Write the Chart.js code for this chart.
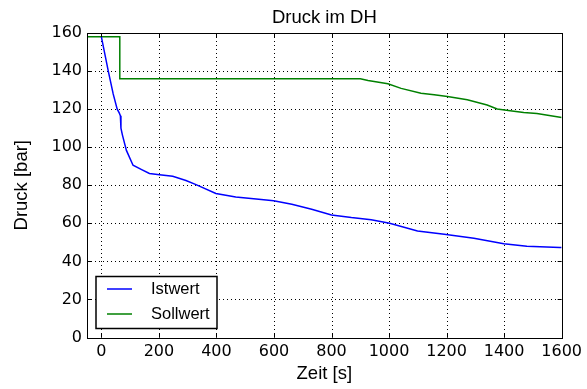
<!DOCTYPE html>
<html>
<head>
<meta charset="utf-8">
<script src="https://cdn.jsdelivr.net/npm/chart.js@4"></script>
<style>
body{margin:0;background:#fff}
</style>
</head>
<body>
<canvas id="Chart" width="587" height="389"></canvas>
<script>
// Istwert (blue)
let istX = [0, 24, 41, 55, 62, 66, 68, 73, 87, 110, 140, 167, 202, 248, 294, 329, 398, 467, 547, 599, 662, 731, 800, 869, 938, 1002, 1099, 1192, 1295, 1399, 1479, 1594, 1600]
let istY = [158, 140, 128, 120, 118, 116.5, 110, 106.5, 98.3, 90.5, 88.2, 86.2, 85.5, 84.7, 82.5, 80.3, 75.7, 73.8, 72.6, 71.8, 70, 67.4, 64.4, 63, 61.9, 60, 56, 54.3, 52.2, 49.3, 48, 47.3, 47.3]
// Sollwert (green)
let sollX = [-50, 64, 64, 900, 927, 996, 1042, 1111, 1157, 1203, 1272, 1341, 1376, 1421, 1468, 1514, 1600]
let sollY = [158, 158, 136, 136, 135, 133.3, 130.9, 128.3, 127.6, 126.6, 124.9, 122.2, 120.1, 119.2, 118.2, 117.7, 115.6]

let xTicks = [0, 200, 400, 600, 800, 1000, 1200, 1400, 1600]
let yTicks = [0, 20, 40, 60, 80, 100, 120, 140, 160]
let chartTitle = "Druck im DH"

function pts(xs, ys){
	return xs.map((x, i) => ({x: x, y: ys[i]}))
}

const sans = '"Liberation Sans", Arial, sans-serif'

// matplotlib-like frame: dotted grid, inward ticks, box, title and legend
const frame = {
	id: 'frame',
	beforeDatasetsDraw(chart){
		const ctx = chart.ctx, a = chart.chartArea
		const xs = chart.scales.x, ys = chart.scales.y
		ctx.save()
		ctx.strokeStyle = '#000'
		ctx.lineWidth = 1
		ctx.setLineDash([1, 3])
		xTicks.forEach(v => {
			const px = Math.round(xs.getPixelForValue(v)) + 0.5
			ctx.beginPath(); ctx.moveTo(px, a.top); ctx.lineTo(px, a.bottom); ctx.stroke()
		})
		yTicks.forEach(v => {
			const py = Math.round(ys.getPixelForValue(v)) + 0.5
			ctx.beginPath(); ctx.moveTo(a.left, py); ctx.lineTo(a.right, py); ctx.stroke()
		})
		ctx.restore()
	},
	afterDraw(chart){
		const ctx = chart.ctx, a = chart.chartArea
		const xs = chart.scales.x, ys = chart.scales.y
		ctx.save()
		ctx.strokeStyle = '#000'
		ctx.lineWidth = 1
		ctx.setLineDash([])
		xTicks.forEach(v => {
			const px = Math.round(xs.getPixelForValue(v)) + 0.5
			ctx.beginPath(); ctx.moveTo(px, a.bottom); ctx.lineTo(px, a.bottom - 4)
			ctx.moveTo(px, a.top); ctx.lineTo(px, a.top + 4); ctx.stroke()
		})
		yTicks.forEach(v => {
			const py = Math.round(ys.getPixelForValue(v)) + 0.5
			ctx.beginPath(); ctx.moveTo(a.left, py); ctx.lineTo(a.left + 4, py)
			ctx.moveTo(a.right, py); ctx.lineTo(a.right - 4, py); ctx.stroke()
		})
		ctx.strokeRect(Math.round(a.left) + 0.5, Math.round(a.top) + 0.5, Math.round(a.right - a.left), Math.round(a.bottom - a.top))

		// title, centred over the plot area
		ctx.fillStyle = '#000'
		ctx.font = '18.5px ' + sans
		ctx.textAlign = 'center'
		ctx.textBaseline = 'middle'
		ctx.fillText(chartTitle, (a.left + a.right) / 2, a.top - 15)

		// legend
		const lx = a.left + 9, ly = a.bottom - 61
		ctx.fillStyle = '#fff'
		ctx.fillRect(lx, ly, 121, 52)
		ctx.lineWidth = 1.5
		ctx.strokeRect(lx, ly, 121, 52)
		ctx.font = '16.5px ' + sans
		ctx.textAlign = 'left'
		chart.data.datasets.forEach((ds, i) => {
			const y = ly + 12.5 + i * 25
			ctx.strokeStyle = ds.borderColor
			ctx.lineWidth = 1.5
			ctx.beginPath(); ctx.moveTo(lx + 11, y); ctx.lineTo(lx + 36, y); ctx.stroke()
			ctx.fillStyle = '#000'
			ctx.fillText(ds.label, lx + 55, y)
		})
		ctx.restore()
	}
}

new Chart("Chart", {
	type: "line",
	data: {
		datasets: [
			{label: "Istwert", data: pts(istX, istY), borderColor: "#0000ff", borderWidth: 1.5, pointRadius: 0, tension: 0, fill: false},
			{label: "Sollwert", data: pts(sollX, sollY), borderColor: "#008000", borderWidth: 1.5, pointRadius: 0, tension: 0, fill: false}
		]
	},
	options: {
		responsive: false,
		animation: false,
		layout: {padding: {left: 0, right: 22, top: 33, bottom: 0}},
		plugins: {
			legend: {display: false},
			tooltip: {enabled: false},
			title: {display: false}
		},
		scales: {
			x: {
				type: "linear",
				min: -50,
				max: 1600,
				afterBuildTicks: s => { s.ticks = xTicks.map(v => ({value: v})) },
				afterFit: s => { s.height = 51.5 },
				grid: {display: false, drawTicks: false},
				border: {display: false},
				ticks: {color: "#000", padding: 5, maxRotation: 0, callback: v => String(v), font: {family: '"DejaVu Sans"', size: 16}},
				title: {display: true, text: "Zeit [s]", color: "#000", padding: {top: 0, bottom: 4.4},
					font: {family: sans, size: 18.5}}
			},
			y: {
				min: 0,
				max: 160,
				afterBuildTicks: s => { s.ticks = yTicks.map(v => ({value: v})) },
				afterFit: s => { s.width = 87 },
				grid: {display: false, drawTicks: false},
				border: {display: false},
				ticks: {color: "#000", padding: 5, callback: v => String(v), font: {family: '"DejaVu Sans"', size: 16}},
				title: {display: true, text: "Druck [bar]", color: "#000", padding: {top: 10.6, bottom: 0},
					font: {family: sans, size: 18.5}}
			}
		}
	},
	plugins: [frame]
})
</script>
</body>
</html>
